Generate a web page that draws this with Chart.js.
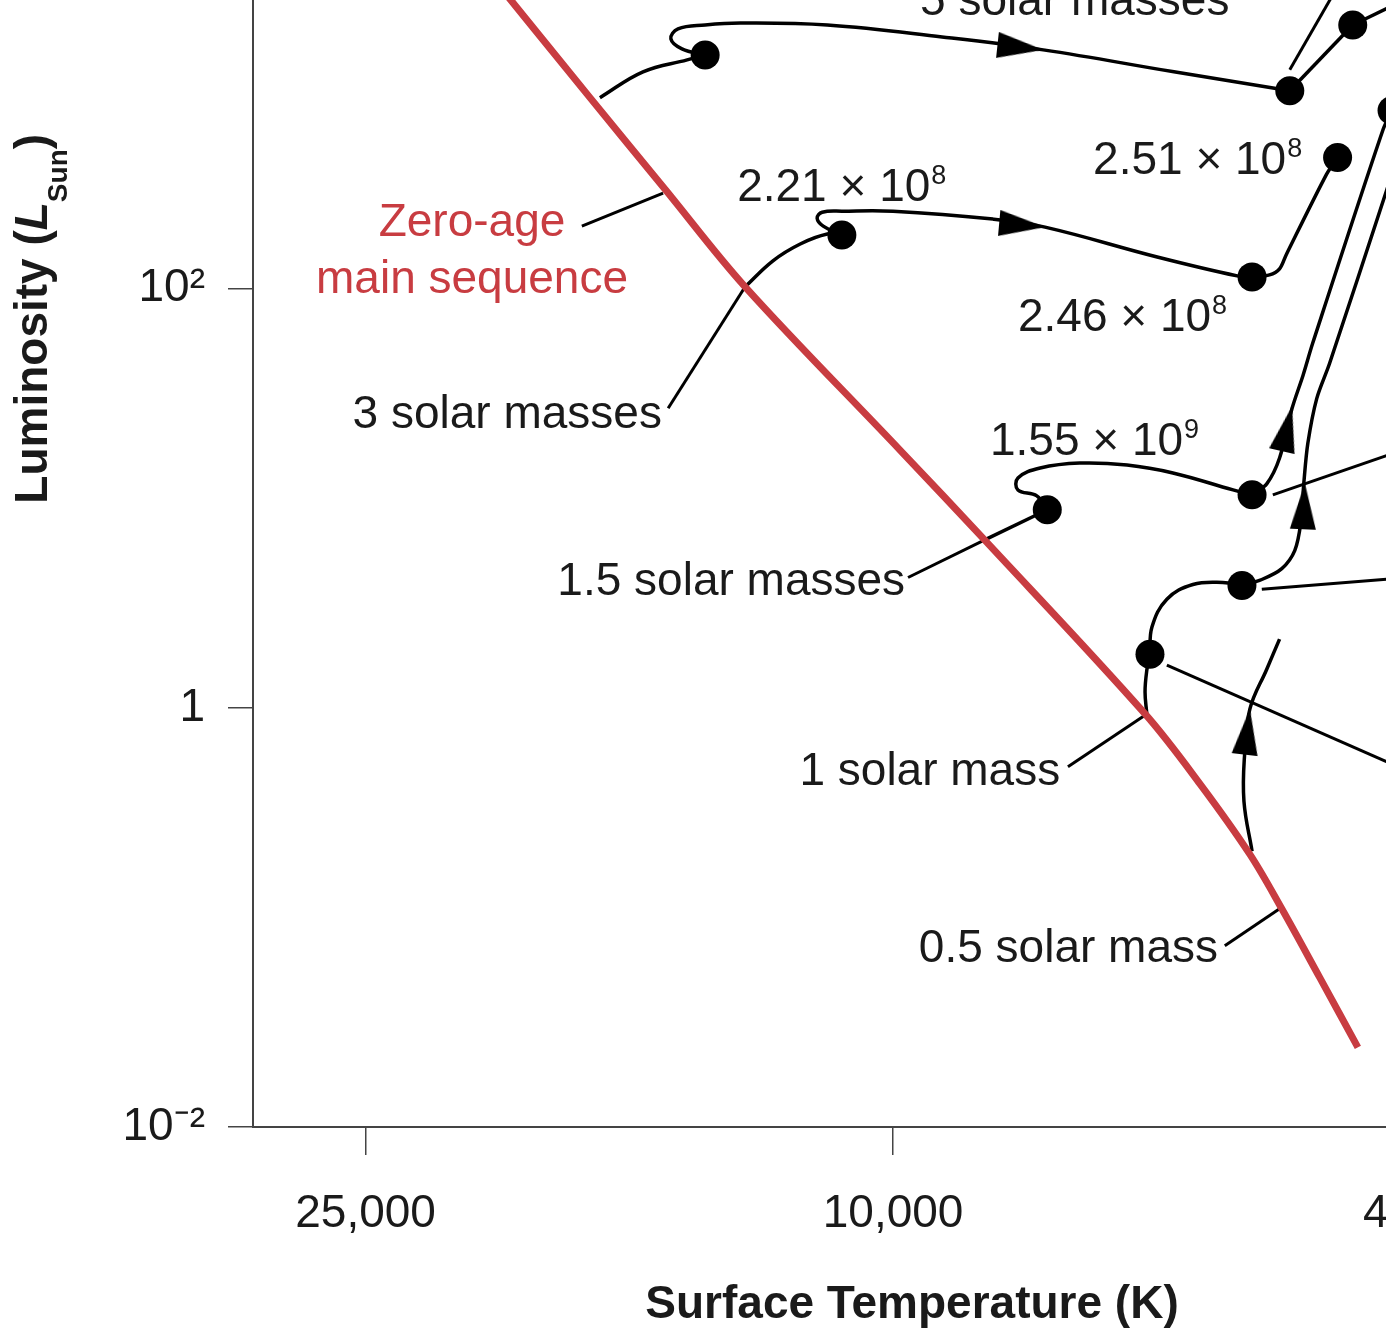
<!DOCTYPE html>
<html>
<head>
<meta charset="utf-8">
<script src="https://cdn.jsdelivr.net/npm/chart.js@4/dist/chart.umd.min.js"></script>
<style>
html,body{margin:0;padding:0;background:#fff;overflow:hidden;width:1386px;height:1333px;position:relative;}
#wrap{position:absolute;left:0;top:-600px;width:1600px;height:1933px;}
canvas{display:block;}
</style>
</head>
<body>
<div id="wrap"><canvas id="c" width="1600" height="1933" style="width:1600px;height:1933px"></canvas></div>
<script>
// ---------- DATA (temperature in K, luminosity in solar units) ----------
const tempTicks = [25000, 10000, 4000];
const lumTicks = [0.01, 1, 100];
const lumTickLabels = ['10\u207B\u00B2', '1', '10\u00B2'];

const zams = [[20460,3576],[16930,817],[14860,298.6],[12930,102.2],[9880,17.0],[8520,6.28],[6455,0.936],[5870,0.4355],[5380,0.200],[5090,0.110],[4765,0.0516],[4460,0.0240]];

const track5_toDot = [[16640,817],[15440,1085],[14300,1238],[13860,1307]];
const track5_loop = [[13860,1307],[14430,1396],[14710,1557],[14530,1738],[13860,1815],[13040,1855],[11210,1815],[9184,1592],[7704,1381],[6139,1085],[5020,882]];
const track5_up = [[5020,882],[4500,1815]];
const track5_exit = [[4500,1815],[4000,2604]];
const upperLine = [[5020,1110],[4568,3136]];

const track3_toDot = [[12930,102.2],[12320,136],[11750,163.6],[11210,182.5],[10930,180.5]];
const track3_loop = [[10930,180.5],[11290,199],[11410,217.4],[11310,232],[10910,234.7],[10000,234.7],[8407,215.1],[7680,197],[6320,141.9],[5500,115.3],[5360,114.0]];
const track3_up = [[5360,114.0],[5200,116.5],[5110,124.5],[5052,145.1],[4710,351.8],[4620,423.8]];

const track15_toDot = [[8520,6.35],[7650,8.82]];
const track15_loop = [[7650,8.82],[7790,10.28],[8050,10.97],[8050,12.51],[7745,13.96],[7230,14.74],[6660,14.42],[6150,13.22],[5540,10.97],[5360,10.39]];
const branchA = [[5360,10.39],[5225,11.72],[5110,15.57],[5000,26.9],[4906,38.6],[4825,54.8],[4269,575.6],[4203,708.8]];

const track1_toDot = [[6435,0.936],[6455,1.191],[6435,1.515],[6400,1.805]];
const track1_bend = [[6400,1.805],[6378,2.43],[6215,3.30],[5940,3.88],[5640,3.97],[5455,3.84]];
const branchB = [[5455,3.84],[5270,4.10],[5090,4.62],[4977,5.63],[4925,7.65],[4899,11.84],[4865,18.3],[4790,30.0],[4685,44.0],[4245,292],[4000,921]];

const track05 = [[5360,0.207],[5436,0.358],[5430,0.598],[5380,0.989],[5225,1.53],[5110,2.13]];

const iso1 = [[5170,10.39],[4000,18.2]];
const iso2 = [[5270,3.68],[4000,4.24]];
const iso3 = [[6215,1.60],[4000,0.470]];

const leaderZams = [[17170,199.3],[14910,285.8]];
const leader3 = [[14780,26.9],[12930,102.2]];
const leader15 = [[9743,4.19],[8520,6.35]];
const leader1 = [[7380,0.524],[6435,0.936]];
const leader05 = [[5620,0.0732],[5110,0.110]];

const stageDots = [[13860,1307],[5020,882],[4500,1815],[10930,180.5],[5360,114.0],[4620,423.8],[7650,8.82],[5360,10.39],[5455,3.84],[6400,1.805],[4203,708.8]];

const arrowTips = [[7704,1381],[7680,197],[5000,27.5],[4890,11.8],[5380,0.989]];
const arrowTails = [[8345,1458],[8300,205.9],[5090,16.8],[4906,7.40],[5430,0.598]];

// text annotations anchored in data space
const annotations = [
  {text:'Zero-age', at:[20780,178.6], align:'center', red:true},
  {text:'main sequence', at:[20780,95.7], align:'center', red:true},
  {text:'3 solar masses', at:[14940,21.6], align:'right'},
  {text:'1.5 solar masses', at:[9794,3.44], align:'right'},
  {text:'1 solar mass', at:[7480,0.4307], align:'right'},
  {text:'0.5 solar mass', at:[5687,0.0615], align:'right'},
  {text:'2.21 \u00D7 10', sup:'8', at:[13110,261.8], align:'left'},
  {text:'2.46 \u00D7 10', sup:'8', at:[8050,63.2], align:'left'},
  {text:'2.51 \u00D7 10', sup:'8', at:[7065,351.8], align:'left'},
  {text:'1.55 \u00D7 10', sup:'9', at:[8451,16.1], align:'left'},
  {text:'5 solar masses', at:[9542,2025], align:'left'}
];

// ---------- STYLE ----------
const FONT = "'Liberation Sans', Arial, Helvetica, sans-serif";
const RED = '#c83c41';
const INK = '#1a1a1a';
const AXIS = '#444';

const pts = a => a.map(([x, y]) => ({x, y}));
function line(arr, extra) {
  return Object.assign({
    data: pts(arr), showLine: true, pointRadius: 0, pointHoverRadius: 0,
    borderColor: '#000', borderWidth: 3.5, tension: 0.4, fill: false, order: 3
  }, extra || {});
}

// arrow head image: tip at the image centre, pointing right
const arrowImg = document.createElement('canvas');
arrowImg.width = 100; arrowImg.height = 30;
(function(){
  const g = arrowImg.getContext('2d');
  g.fillStyle = '#000';
  g.beginPath(); g.moveTo(50, 15); g.lineTo(4, 2); g.lineTo(4, 28); g.closePath(); g.fill();
})();

const datasets = [
  line(zams, {borderColor: RED, borderWidth: 7, tension: 0.35, order: 1}),
  line(track5_toDot), line(track5_loop), line(track5_up, {tension: 0}), line(track5_exit, {tension: 0}),
  line(upperLine, {tension: 0, borderWidth: 3}),
  line(track3_toDot), line(track3_loop), line(track3_up, {tension: 0.3}),
  line(track15_toDot, {tension: 0}), line(track15_loop), line(branchA, {tension: 0.3}),
  line(track1_toDot), line(track1_bend), line(branchB, {tension: 0.3}),
  line(track05, {tension: 0.4}),
  line(iso1, {tension: 0, borderWidth: 3}), line(iso2, {tension: 0, borderWidth: 3}), line(iso3, {tension: 0, borderWidth: 3}),
  line(leaderZams, {tension: 0, borderWidth: 3}), line(leader3, {tension: 0, borderWidth: 3}),
  line(leader15, {tension: 0, borderWidth: 3}), line(leader1, {tension: 0, borderWidth: 3}),
  line(leader05, {tension: 0, borderWidth: 3}),
  {data: pts(stageDots), showLine: false, pointRadius: 14.5, pointHoverRadius: 14.5,
   backgroundColor: '#000', borderWidth: 0, order: 0},
  {data: pts(arrowTips), showLine: false, pointStyle: arrowImg, pointRadius: 10, order: 0,
   rotation: (ctx) => {
     const c = ctx.chart, xs = c.scales.x, ys = c.scales.y, i = ctx.dataIndex;
     if (!xs || !ys || i === undefined) return 0;
     const t = arrowTips[i], f = arrowTails[i];
     const dx = xs.getPixelForValue(t[0]) - xs.getPixelForValue(f[0]);
     const dy = ys.getPixelForValue(t[1]) - ys.getPixelForValue(f[1]);
     return Math.atan2(dy, dx) * 180 / Math.PI;
   }}
];

const annotationPlugin = {
  id: 'annot',
  afterDatasetsDraw(chart) {
    const {ctx, scales: {x, y}} = chart;
    ctx.save();
    ctx.textBaseline = 'alphabetic';
    ctx.textAlign = 'left';
    for (const lb of annotations) {
      const px = x.getPixelForValue(lb.at[0]);
      const py = y.getPixelForValue(lb.at[1]);
      ctx.font = '46px ' + FONT;
      const w1 = ctx.measureText(lb.text).width;
      let w2 = 0;
      if (lb.sup) { ctx.font = '27px ' + FONT; w2 = ctx.measureText(lb.sup).width + 1; }
      const W = w1 + w2;
      const x0 = lb.align === 'right' ? px - W : lb.align === 'center' ? px - W / 2 : px;
      ctx.fillStyle = lb.red ? RED : INK;
      ctx.font = '46px ' + FONT;
      ctx.fillText(lb.text, x0, py);
      if (lb.sup) { ctx.font = '27px ' + FONT; ctx.fillText(lb.sup, x0 + w1 + 1, py - 17); }
    }
    ctx.restore();
  }
};

const yTitlePlugin = {
  id: 'ytitle',
  afterDraw(chart) {
    const {ctx, chartArea} = chart;
    const parts = [
      {t: 'Luminosity (', f: 'bold 46px ' + FONT, dy: 0},
      {t: 'L', f: 'italic bold 46px ' + FONT, dy: 0},
      {t: 'Sun', f: 'bold 28px ' + FONT, dy: 20},
      {t: ')', f: 'bold 46px ' + FONT, dy: 0}
    ];
    ctx.save();
    let total = 0;
    for (const p of parts) { ctx.font = p.f; p.w = ctx.measureText(p.t).width; total += p.w; }
    const cy = (chartArea.top + chartArea.bottom) / 2 + 30;
    const bx = chartArea.left - 206;
    ctx.translate(bx, cy + total / 2);
    ctx.rotate(-Math.PI / 2);
    ctx.fillStyle = INK;
    ctx.textBaseline = 'alphabetic';
    ctx.textAlign = 'left';
    let xx = 0;
    for (const p of parts) { ctx.font = p.f; ctx.fillText(p.t, xx, p.dy); xx += p.w; }
    ctx.restore();
  }
};

new Chart(document.getElementById('c'), {
  type: 'scatter',
  data: {datasets},
  options: {
    responsive: false,
    maintainAspectRatio: false,
    devicePixelRatio: 1,
    animation: false,
    events: [],
    layout: {padding: {top: 43, right: 29, left: 0, bottom: 0}},
    plugins: {legend: {display: false}, tooltip: {enabled: false}},
    scales: {
      x: {
        type: 'logarithmic', reverse: true, min: 3080, max: 30400,
        afterBuildTicks: s => { s.ticks = tempTicks.map(v => ({value: v})); },
        afterFit: s => { s.height = 206; },
        ticks: {
          autoSkip: false, maxRotation: 0, padding: 32, color: INK,
          font: {family: FONT, size: 46},
          callback: v => String(v).replace(/\B(?=(\d{3})+(?!\d))/g, ',')
        },
        grid: {drawOnChartArea: false, drawTicks: true, tickLength: 28, color: AXIS, lineWidth: 1.5},
        border: {display: true, color: AXIS, width: 2},
        title: {display: true, text: 'Surface Temperature (K)', color: INK,
                font: {family: FONT, size: 46, weight: 'bold'}, padding: {top: 0, bottom: 0}}
      },
      y: {
        type: 'logarithmic', min: 0.01, max: 1e6,
        afterBuildTicks: s => { s.ticks = lumTicks.map(v => ({value: v})); },
        afterFit: s => { s.width = 253; },
        ticks: {
          autoSkip: false, padding: 23, color: INK,
          font: {family: FONT, size: 46},
          callback: (v, i) => lumTickLabels[i]
        },
        grid: {drawOnChartArea: false, drawTicks: true, tickLength: 25, color: AXIS, lineWidth: 1.5},
        border: {display: true, color: AXIS, width: 2}
      }
    }
  },
  plugins: [annotationPlugin, yTitlePlugin]
});
</script>
</body>
</html>
